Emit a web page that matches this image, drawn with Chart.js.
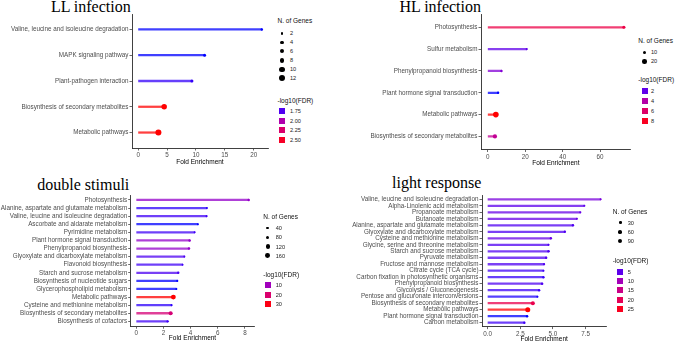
<!DOCTYPE html>
<html>
<head>
<meta charset="utf-8">
<script src="https://cdn.jsdelivr.net/npm/chart.js@4.4.0/dist/chart.umd.min.js"></script>
<style>
body{margin:0;width:676px;height:342px;overflow:hidden;position:relative;background:#fff;font-family:"Liberation Sans",Arial,sans-serif}
canvas,.t,.lt,.ll,.dot,.sq{position:absolute}
.t{font:16px/16px "Liberation Serif","Times New Roman",serif;color:#000;white-space:nowrap}
.lt{font-size:6.5px;line-height:8px;color:#111;white-space:nowrap}
.ll{font-size:5.6px;line-height:8px;color:#222;white-space:nowrap}
.dot{background:#000;border-radius:50%}
</style>
</head>
<body>
<div class="t" style="right:545.3px;top:-1.4px">LL infection</div>
<div class="t" style="right:195px;top:-1.4px">HL infection</div>
<div class="t" style="right:546.7px;top:176.6px">double stimuli</div>
<div class="t" style="right:194.7px;top:175.1px">light response</div>
<canvas id="c1" width="270" height="170" style="left:0;top:0"></canvas>
<canvas id="c2" width="295" height="170" style="left:338px;top:0"></canvas>
<canvas id="c3" width="256" height="180" style="left:0;top:165px"></canvas>
<canvas id="c4" width="270" height="180" style="left:338px;top:165px"></canvas>
<script>
// LL infection
const llPathways = ['Valine, leucine and isoleucine degradation', 'MAPK signaling pathway',
  'Plant-pathogen interaction', 'Biosynthesis of secondary metabolites', 'Metabolic pathways'];
const llFold = [21.4, 11.5, 9.3, 4.5, 3.5];
const llGenes = [2, 3, 3, 10, 12];
const llFdr = [1.70, 1.70, 1.72, 2.58, 2.58];
const llTicks = [0, 5, 10, 15, 20];
const llTickLabels = ['0', '5', '10', '15', '20'];
const llGeneBreaks = [2, 4, 6, 8, 10, 12];
const llFdrBreaks = [1.75, 2.00, 2.25, 2.50];
const llFdrLabels = ['1.75', '2.00', '2.25', '2.50'];

// HL infection
const hlPathways = ['Photosynthesis', 'Sulfur metabolism', 'Phenylpropanoid biosynthesis',
  'Plant hormone signal transduction', 'Metabolic pathways', 'Biosynthesis of secondary metabolites'];
const hlFold = [72.7, 20.8, 7.3, 5.5, 4.3, 3.8];
const hlGenes = [10, 5, 6, 6, 32, 18];
const hlFdr = [7.0, 2.0, 2.6, 1.4, 8.5, 4.6];
const hlTicks = [0, 20, 40, 60];
const hlTickLabels = ['0', '20', '40', '60'];
const hlGeneBreaks = [10, 20];
const hlFdrBreaks = [2, 4, 6, 8];
const hlFdrLabels = ['2', '4', '6', '8'];

// double stimuli
const dsPathways = ['Photosynthesis', 'Alanine, aspartate and glutamate metabolism',
  'Valine, leucine and isoleucine degradation', 'Ascorbate and aldarate metabolism',
  'Pyrimidine metabolism', 'Plant hormone signal transduction', 'Phenylpropanoid biosynthesis',
  'Glyoxylate and dicarboxylate metabolism', 'Flavonoid biosynthesis', 'Starch and sucrose metabolism',
  'Biosynthesis of nucleotide sugars', 'Glycerophospholipid metabolism', 'Metabolic pathways',
  'Cysteine and methionine metabolism', 'Biosynthesis of secondary metabolites', 'Biosynthesis of cofactors'];
const dsFold = [8.28, 5.2, 5.18, 4.54, 4.3, 3.93, 3.88, 3.54, 3.41, 3.09, 3.02, 2.95, 2.73, 2.6, 2.53, 2.31];
const dsGenes = [45, 30, 30, 25, 30, 45, 45, 30, 25, 40, 30, 30, 165, 30, 115, 40];
const dsFdr = [8.5, 2.5, 3, 2, 3, 8.5, 8.5, 3.5, 3, 3.5, 2, 2, 31, 2.5, 19, 3];
const dsTicks = [0, 2, 4, 6, 8];
const dsTickLabels = ['0', '2', '4', '6', '8'];
const dsGeneBreaks = [40, 80, 120, 160];
const dsFdrBreaks = [10, 20, 30];
const dsFdrLabels = ['10', '20', '30'];

// light response
const lrPathways = ['Valine, leucine and isoleucine degradation', 'Alpha-Linolenic acid metabolism',
  'Propanoate metabolism', 'Butanoate metabolism', 'Alanine, aspartate and glutamate metabolism',
  'Glyoxylate and dicarboxylate metabolism', 'Cysteine and methionine metabolism',
  'Glycine, serine and threonine metabolism', 'Starch and sucrose metabolism', 'Pyruvate metabolism',
  'Fructose and mannose metabolism', 'Citrate cycle (TCA cycle)', 'Carbon fixation in photosynthetic organisms',
  'Phenylpropanoid biosynthesis', 'Glycolysis / Gluconeogenesis', 'Pentose and glucuronate interconversions',
  'Biosynthesis of secondary metabolites', 'Metabolic pathways', 'Plant hormone signal transduction',
  'Carbon metabolism'];
const lrFold = [8.65, 7.4, 7.09, 6.83, 6.53, 5.91, 4.84, 4.66, 4.66, 4.48, 4.32, 4.27, 4.27, 4.17,
  3.94, 3.81, 3.46, 3.07, 3.02, 2.81];
const lrGenes = [20, 20, 22, 20, 25, 25, 25, 22, 30, 25, 22, 20, 25, 28, 25, 20, 70, 110, 25, 25];
const lrFdr = [6.5, 5, 5.5, 5.5, 4.5, 4.5, 5.5, 4.5, 4.5, 4.5, 4.5, 4, 3.8, 4.5, 4, 3.4, 21, 26.5, 3.2, 4];
const lrTicks = [0, 2.5, 5, 7.5];
const lrTickLabels = ['0.0', '2.5', '5.0', '7.5'];
const lrGeneBreaks = [30, 60, 90];
const lrFdrBreaks = [5, 10, 15, 20, 25];
const lrFdrLabels = ['5', '10', '15', '20', '25'];

// blue -> red gradient in Lab, as ggplot does it
function lin(c) { return c <= 0.04045 ? c / 12.92 : Math.pow((c + 0.055) / 1.055, 2.4); }
function gam(c) { return c <= 0.0031308 ? 12.92 * c : 1.055 * Math.pow(c, 1 / 2.4) - 0.055; }
function toLab(rgb) {
  const [r, g, b] = rgb.map(lin);
  const f = t => t > 0.008856 ? Math.cbrt(t) : 7.787 * t + 16 / 116;
  const fx = f((r * 0.4124 + g * 0.3576 + b * 0.1805) / 0.95047);
  const fy = f(r * 0.2126 + g * 0.7152 + b * 0.0722);
  const fz = f((r * 0.0193 + g * 0.1192 + b * 0.9505) / 1.08883);
  return [116 * fy - 16, 500 * (fx - fy), 200 * (fy - fz)];
}
function fromLab([L, a, b]) {
  const fy = (L + 16) / 116, fx = fy + a / 500, fz = fy - b / 200;
  const fi = t => t * t * t > 0.008856 ? t * t * t : (t - 16 / 116) / 7.787;
  const x = fi(fx) * 0.95047, y = fi(fy), z = fi(fz) * 1.08883;
  return [3.2406 * x - 1.5372 * y - 0.4986 * z,
    -0.9689 * x + 1.8758 * y + 0.0415 * z,
    0.0557 * x - 0.2040 * y + 1.0570 * z].map(c => Math.round(255 * Math.min(1, Math.max(0, gam(c)))));
}
const LOW = toLab([0, 0, 1]), HIGH = toLab([1, 0, 0]);
function fdrColor(v, lo, hi, alpha) {
  const t = Math.max(0, Math.min(1, (v - lo) / (hi - lo)));
  const [r, g, b] = fromLab(LOW.map((c, i) => c + (HIGH[i] - c) * t));
  return 'rgba(' + r + ',' + g + ',' + b + ',' + alpha + ')';
}

const tickFont = {family: 'Liberation Sans', size: 6.3};
const axisColor = '#2b2b2b';

function makePanel(id, p) {
  const lo = Math.min(...p.fdr), hi = Math.max(...p.fdr);
  const top = Math.max(...p.fold);
  const stems = p.fold.map((v, i) => ({x: v, y: i}));
  new Chart(document.getElementById(id), {
    type: 'bar',
    data: {
      datasets: [
        {
          type: 'scatter',
          data: stems,
          order: 0,
          pointRadius: p.genes.map(n => p.k * Math.sqrt(n)),
          pointBackgroundColor: p.fdr.map(v => fdrColor(v, lo, hi, 1)),
          pointBorderWidth: 0
        },
        {
          type: 'bar',
          indexAxis: 'y',
          data: stems,
          order: 1,
          barThickness: 1.6,
          backgroundColor: p.fdr.map(v => fdrColor(v, lo, hi, 0.75)),
          borderWidth: 0
        }
      ]
    },
    options: {
      responsive: false,
      animation: false,
      layout: {autoPadding: false, padding: {top: p.padTop, right: p.padRight, left: 0, bottom: 0}},
      plugins: {legend: {display: false}, tooltip: {enabled: false}},
      scales: {
        x: {
          type: 'linear',
          offset: false,
          min: -0.05 * top,
          max: 1.05 * top,
          afterFit: s => { s.height = p.xH; },
          afterBuildTicks: s => { s.ticks = p.ticks.map(v => ({value: v})); },
          ticks: {font: tickFont, color: '#4d4d4d', padding: 1, maxRotation: 0,
            callback: (v, i) => p.tickLabels[i]},
          grid: {offset: false, drawOnChartArea: false, drawTicks: true, tickLength: 2.5, color: axisColor, lineWidth: 0.7},
          border: {display: true, color: axisColor, width: 0.9},
          title: {display: true, text: 'Fold Enrichment', color: '#000',
            font: {family: 'Liberation Sans', size: 6.5}, padding: {top: 0, bottom: p.titlePad}}
        },
        y: {
          type: 'linear',
          offset: false,
          reverse: true,
          min: -0.6,
          max: p.names.length - 0.4,
          afterFit: s => { s.width = p.yW; },
          afterBuildTicks: s => { s.ticks = p.names.map((n, i) => ({value: i})); },
          ticks: {font: tickFont, color: '#4d4d4d', padding: 1, autoSkip: false,
            callback: v => p.names[v]},
          grid: {offset: false, drawOnChartArea: false, drawTicks: true, tickLength: 2.5, color: axisColor, lineWidth: 0.7},
          border: {display: true, color: axisColor, width: 0.9}
        }
      }
    }
  });

  // legends
  const L = p.leg;
  addText('lt', 'N. of Genes', L.gx, L.gy);
  p.geneBreaks.forEach((n, i) => {
    const r = p.k * Math.sqrt(n), cy = L.dotY + i * L.dotStep;
    const d = document.createElement('div');
    d.className = 'dot';
    d.style.cssText = 'left:' + (L.keyX - r) + 'px;top:' + (cy - r) + 'px;width:' + 2 * r + 'px;height:' + 2 * r + 'px';
    document.body.appendChild(d);
    addText('ll', String(n), L.textX, cy);
  });
  addText('lt', '-log10(FDR)', L.gx, L.fy);
  p.fdrBreaks.forEach((v, i) => {
    const cy = L.sqY + i * L.sqStep;
    const d = document.createElement('div');
    d.className = 'sq';
    d.style.cssText = 'left:' + (L.keyX - 3) + 'px;top:' + (cy - 3) + 'px;width:6px;height:6px;background:' + fdrColor(v, lo, hi, 1);
    document.body.appendChild(d);
    addText('ll', p.fdrLabels[i], L.textX, cy);
  });
}

function addText(cls, txt, x, cy) {
  const d = document.createElement('div');
  d.className = cls;
  d.textContent = txt;
  d.style.left = x + 'px';
  d.style.top = (cy - 4) + 'px';
  document.body.appendChild(d);
}

makePanel('c1', {names: llPathways, fold: llFold, genes: llGenes, fdr: llFdr, ticks: llTicks,
  tickLabels: llTickLabels, geneBreaks: llGeneBreaks, fdrBreaks: llFdrBreaks, fdrLabels: llFdrLabels,
  k: 0.87, yW: 132, xH: 22, padTop: 14, padRight: 2, titlePad: 3.4,
  leg: {gx: 277.5, gy: 21, keyX: 282, dotY: 33.3, dotStep: 9, textX: 290, fy: 100.7, sqY: 111.3, sqStep: 9.4}});

makePanel('c2', {names: hlPathways, fold: hlFold, genes: hlGenes, fdr: hlFdr, ticks: hlTicks,
  tickLabels: hlTickLabels, geneBreaks: hlGeneBreaks, fdrBreaks: hlFdrBreaks, fdrLabels: hlFdrLabels,
  k: 0.5, yW: 143, xH: 20.5, padTop: 14.2, padRight: 2.3, titlePad: 2.8,
  leg: {gx: 638.3, gy: 40.7, keyX: 644.5, dotY: 52.3, dotStep: 9, textX: 651, fy: 80, sqY: 91, sqStep: 9.9}});

makePanel('c3', {names: dsPathways, fold: dsFold, genes: dsGenes, fdr: dsFdr, ticks: dsTicks,
  tickLabels: dsTickLabels, geneBreaks: dsGeneBreaks, fdrBreaks: dsFdrBreaks, fdrLabels: dsFdrLabels,
  k: 0.19, yW: 130.7, xH: 18.8, padTop: 30.1, padRight: 1.7, titlePad: 2.8,
  leg: {gx: 263.3, gy: 217.3, keyX: 267.6, dotY: 228.3, dotStep: 9.1, textX: 275.7, fy: 275, sqY: 285.3, sqStep: 9.2}});

makePanel('c4', {names: lrPathways, fold: lrFold, genes: lrGenes, fdr: lrFdr, ticks: lrTicks,
  tickLabels: lrTickLabels, geneBreaks: lrGeneBreaks, fdrBreaks: lrFdrBreaks, fdrLabels: lrFdrLabels,
  k: 0.24, yW: 144, xH: 18.4, padTop: 30.4, padRight: 1.7, titlePad: 2.1,
  leg: {gx: 612.7, gy: 211.7, keyX: 620.2, dotY: 222.7, dotStep: 9.2, textX: 627.7, fy: 261, sqY: 271.7, sqStep: 9.35}});
</script>
</body>
</html>
